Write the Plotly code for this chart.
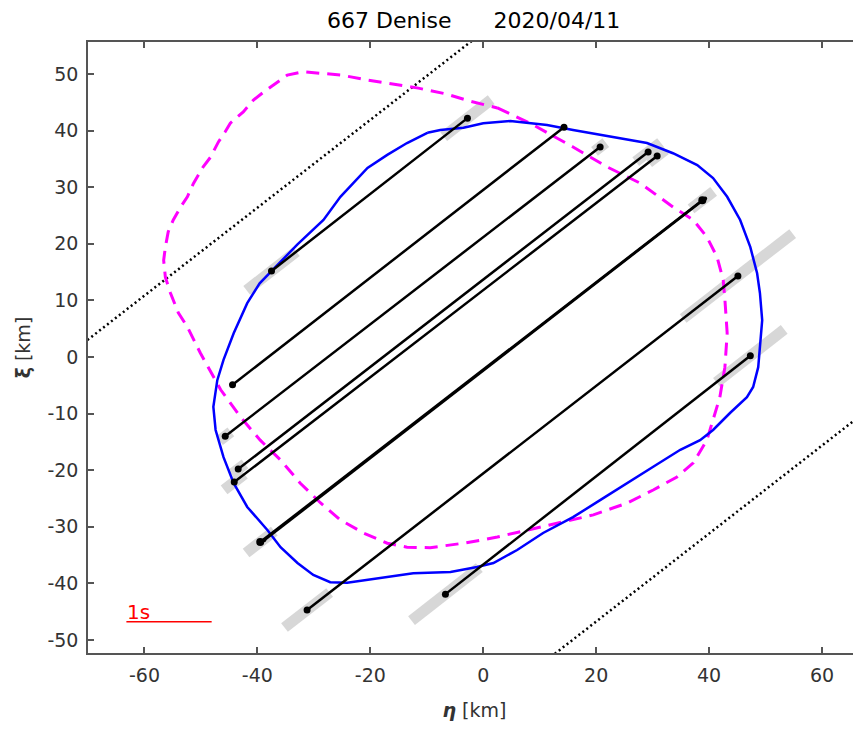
import plotly.graph_objects as go

# ---------------- data ----------------
title_text = "667 Denise\u00a0\u00a0\u00a0\u00a0\u00a0\u00a02020/04/11"

# shape model 1 (blue, solid)
blue_eta = [-9.9, -7.6, -3.5, 0.0, 4.8, 11.3, 15.9, 23.0, 29.0, 33.6, 37.9, 40.7, 43.2, 45.5, 47.3, 48.5,
            49.0, 49.4, 49.0, 48.7, 47.8, 46.7, 43.7, 40.7, 38.4, 34.9, 30.1, 26.5, 20.7, 15.9, 10.6, 6.0,
            1.8, -1.1, -5.8, -12.4, -18.2, -24.1, -27.1, -30.1, -32.9, -35.9, -38.2, -41.8, -44.2, -46.0,
            -47.4, -47.8, -47.1, -46.0, -44.2, -41.8, -39.6, -36.0, -32.9, -28.3, -25.3, -20.5, -17.0, -13.5, -9.9]
blue_xi = [39.6, 40.1, 40.5, 41.3, 41.7, 41.0, 40.1, 38.9, 37.8, 36.0, 33.9, 31.6, 28.3, 24.2, 19.4, 14.8,
           11.3, 6.5, 2.5, -1.8, -5.3, -7.1, -9.9, -12.9, -14.7, -16.4, -19.4, -21.7, -25.3, -28.3, -31.1, -34.1,
           -36.4, -37.1, -38.0, -38.2, -39.0, -39.9, -39.8, -38.5, -36.4, -33.6, -30.6, -26.5, -22.3, -17.7,
           -12.9, -8.8, -4.1, -0.5, 4.2, 9.5, 13.0, 16.8, 19.9, 24.2, 28.3, 33.4, 35.7, 37.8, 39.6]

# shape model 2 (magenta, dashed)
mag_eta = [2.5, 8.3, 15.9, 21.9, 27.8, 33.6, 37.2, 39.6, 41.4, 42.5, 42.8, 43.2, 42.8, 41.9, 40.7, 39.6,
           37.2, 34.3, 30.1, 25.5, 19.5, 13.6, 7.8, 2.5, 0.0, -3.5, -9.4, -13.5, -17.0, -21.2, -25.3, -28.8,
           -32.4, -35.9, -39.5, -43.0, -46.5, -50.1, -52.4, -54.0, -55.4, -56.3, -56.6, -56.3, -55.8, -54.9,
           -53.6, -52.4, -51.3, -49.6, -48.3, -46.9, -45.7, -44.8, -42.5, -40.7, -38.9, -36.5, -34.7, -31.9,
           -25.1, -20.4, -15.4, -11.5, -6.7, -2.3, 2.5]
mag_xi = [44.0, 41.3, 37.1, 33.6, 30.7, 26.5, 24.2, 21.2, 17.7, 13.6, 10.1, 4.2, -1.8, -7.1, -11.1, -14.7,
          -18.7, -21.2, -23.5, -25.8, -27.9, -29.3, -30.6, -31.8, -32.3, -32.9, -33.7, -33.6, -32.9, -31.1, -28.8, -25.8,
          -22.3, -18.2, -14.7, -10.6, -5.8, 0.7, 5.3, 7.8, 11.3, 14.1, 17.1, 19.4, 22.1, 24.2,
          26.5, 28.3, 30.7, 33.6, 35.3, 38.0, 39.8, 41.3, 43.3, 45.4, 46.8, 48.6, 49.8, 50.4,
          49.8, 48.9, 48.1, 47.5, 46.5, 45.2, 44.0]

# observed chords: start (eta, xi) -> end (eta, xi)
chord_start_eta = [-37.5, -44.4, -45.7, -43.4, -44.1, -39.5, -38.8, -31.2, -6.7]
chord_start_xi  = [15.2, -4.9, -14.0, -19.8, -22.1, -32.7, -32.4, -44.7, -41.9]
chord_end_eta   = [-2.8, 14.3, 20.7, 29.2, 30.8, 38.8, 39.3, 45.1, 47.3]
chord_end_xi    = [42.2, 40.6, 37.1, 36.2, 35.5, 27.7, 28.0, 14.3, 0.2]
chord_width     = [2.5, 2.5, 2.5, 2.5, 2.5, 2.5, 2.5, 2.5, 2.5]
chord_marker    = [7, 7, 7, 7, 7, 8, 4, 7, 7]
# timing uncertainty (half-length along eta, km) at start / end
unc_start = [4.4, 0.0, 1.0, 1.2, 1.8, 2.5, 0.0, 4.0, 6.0]
unc_end   = [4.2, 0.0, 1.0, 2.2, 1.5, 2.0, 0.0, 9.7, 6.0]

# limit (negative chord) lines
limit1_eta = [-75.0, 5.0]
limit1_xi = [-0.8, 61.3]
limit2_eta = [5.0, 80.0]
limit2_xi = [-58.4, -0.1]

# time scale bar
scale_eta = [-63.2, -48.1]
scale_xi = [-46.8, -46.8]
scale_label = "1s"

x_ticks = [-60, -40, -20, 0, 20, 40, 60]
x_tick_text = ["-60", "-40", "-20", "0", "20", "40", "60"]
y_ticks = [-50, -40, -30, -20, -10, 0, 10, 20, 30, 40, 50]
y_tick_text = ["-50", "-40", "-30", "-20", "-10", "0", "10", "20", "30", "40", "50"]

FONT = "DejaVu Sans"

# ---------------- figure ----------------
fig = go.Figure()

# grey uncertainty bars
for i in range(len(chord_start_eta)):
    slope = (chord_end_xi[i] - chord_start_xi[i]) / (chord_end_eta[i] - chord_start_eta[i])
    for (e0, x0, h) in [(chord_start_eta[i], chord_start_xi[i], unc_start[i]),
                        (chord_end_eta[i], chord_end_xi[i], unc_end[i])]:
        if h > 0:
            fig.add_trace(go.Scatter(x=[e0 - h, e0 + h], y=[x0 - h * slope, x0 + h * slope],
                                     mode="lines", line=dict(color="#d7d7d7", width=11),
                                     hoverinfo="skip", showlegend=False))

# limit lines
for le, lx in [(limit1_eta, limit1_xi), (limit2_eta, limit2_xi)]:
    fig.add_trace(go.Scatter(x=le, y=lx, mode="lines",
                             line=dict(color="black", width=2.5, dash="2px,3px"),
                             showlegend=False))

# shape models
fig.add_trace(go.Scatter(x=mag_eta, y=mag_xi, mode="lines",
                         line=dict(color="#ff00ff", width=3, dash="13px,8px"),
                         showlegend=False))
fig.add_trace(go.Scatter(x=blue_eta, y=blue_xi, mode="lines",
                         line=dict(color="#0000ff", width=2.5),
                         showlegend=False))

# chords
for i in range(len(chord_start_eta)):
    fig.add_trace(go.Scatter(x=[chord_start_eta[i], chord_end_eta[i]],
                             y=[chord_start_xi[i], chord_end_xi[i]],
                             mode="lines+markers",
                             line=dict(color="black", width=chord_width[i]),
                             marker=dict(color="black", size=chord_marker[i]),
                             showlegend=False))

# scale bar
fig.add_trace(go.Scatter(x=scale_eta, y=scale_xi, mode="lines",
                         line=dict(color="#ff0000", width=1.5), showlegend=False))
fig.add_annotation(x=scale_eta[0], y=scale_xi[0], text=scale_label, showarrow=False,
                   xanchor="left", yanchor="bottom", xshift=-1, yshift=-4,
                   font=dict(color="#ff0000", size=20, family=FONT))

axis_common = dict(showline=True, linecolor="#555555", linewidth=1.5, mirror="ticks",
                   ticks="inside", ticklen=6, tickwidth=1.5, tickcolor="#555555",
                   showgrid=False, zeroline=False, automargin=False,
                   tickfont=dict(size=19, color="#333333", family=FONT))

fig.update_xaxes(range=[-70, 66.9], tickvals=x_ticks, ticktext=x_tick_text, **axis_common,
                 ticklabelstandoff=4,
                 title=dict(text="<b><i>η</i></b> [km]", standoff=24,
                            font=dict(size=19, color="#333333", family=FONT)))
fig.update_yaxes(range=[-52.3, 55.65], tickvals=y_ticks, ticktext=y_tick_text, **axis_common,
                 ticklabelstandoff=4,
                 title=dict(text="<b>ξ</b> [km]", standoff=12,
                            font=dict(size=19, color="#333333", family=FONT)))

fig.update_layout(
    width=853, height=713,
    margin=dict(l=80, r=0, t=34, b=68),
    paper_bgcolor="white", plot_bgcolor="white",
    title=dict(text=title_text, x=0.546, xanchor="center", y=0.983, yanchor="middle",
               font=dict(size=22, color="black", family=FONT)),
    showlegend=False,
)

fig.write_html("out.html")
